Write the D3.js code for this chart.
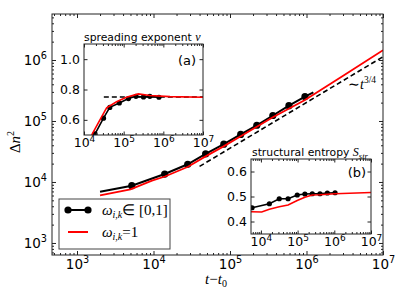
<!DOCTYPE html>
<html lang="en">
<head>
<meta charset="UTF-8">
<title>Spreading</title>
<script src="https://d3js.org/d3.v7.min.js"></script>
<style>body{margin:0;background:#fff}</style>
</head>
<body>
<script>
// main panel: black = omega in [0,1] (with markers), red = omega = 1
const blackT = [2000, 5200, 14000, 28000, 48000, 83000, 138000, 224000, 363000, 589000, 955000, 1230000];
const blackN = [6900, 8700, 13500, 19500, 28800, 41700, 60300, 85100, 123000, 178000, 251000, 295000];
const redT = [2000, 5000, 9550, 14100, 28200, 47900, 81300, 138000, 363000, 955000, 3160000, 1e7];
const redN = [6030, 7590, 10500, 12300, 17800, 26300, 38000, 56200, 115000, 221000, 575000, 1445000];
const powT = [40000, 1e7];
const powN = [18000, 1130000];

// inset (a): spreading exponent nu
const nuBlackT = [19000, 31000, 44700, 77600, 132000, 204000, 316000, 457000, 776000];
const nuBlack = [0.507, 0.611, 0.682, 0.711, 0.74, 0.755, 0.751, 0.755, 0.749];
const nuRedT = [14100, 16200, 28200, 37200, 66100, 117000, 234000, 457000, 1480000, 1e7];
const nuRed = [0.46, 0.507, 0.623, 0.679, 0.719, 0.749, 0.771, 0.76, 0.753, 0.749];
const nuRefT = [31600, 1e7];
const nuRef = [0.75, 0.75];

// inset (b): structural entropy
const sBlackT = [5750, 17000, 31600, 55000, 97700, 158000, 251000, 407000, 646000, 1050000];
const sBlack = [0.455, 0.471, 0.491, 0.491, 0.506, 0.510, 0.511, 0.511, 0.514, 0.515];
const sRedT = [5370, 10500, 17000, 31600, 55000, 97700, 158000, 251000, 407000, 1050000, 1e7];
const sRed = [0.439, 0.438, 0.449, 0.459, 0.466, 0.484, 0.497, 0.506, 0.507, 0.511, 0.516];

const SANS = "DejaVu Sans", SERIF = "Liberation Serif";

const svg = d3.select("body").append("svg").attr("width", 399).attr("height", 301);
svg.append("rect").attr("width", 399).attr("height", 301).attr("fill", "white");

function logTicks(lo, hi) {
  const major = [], minor = [];
  for (let e = Math.floor(Math.log10(lo)); e <= Math.ceil(Math.log10(hi)); e++) {
    for (let k = 1; k < 10; k++) {
      const v = k * Math.pow(10, e);
      if (v < lo * 0.999 || v > hi * 1.001) continue;
      (k === 1 ? major : minor).push(v);
    }
  }
  return {major, minor};
}

function powLabels(g, fs) {
  g.selectAll(".tick text").each(function(d) {
    const t = d3.select(this).text(null);
    t.append("tspan").text("10");
    t.append("tspan").attr("dy", "-0.55em").attr("font-size", fs * 0.72)
      .text(Math.round(Math.log10(d)));
  });
}

// panel with ticks inside on all four sides
function panel(x, y, o) {
  const [x0, x1] = x.range(), [yb, yt] = y.range();
  const g = svg.append("g");
  const id = "clip" + Math.round(x0) + "_" + Math.round(yt);
  g.append("clipPath").attr("id", id).append("rect")
    .attr("x", x0).attr("y", yt).attr("width", x1 - x0).attr("height", yb - yt);
  g.append("rect").attr("x", x0).attr("y", yt).attr("width", x1 - x0).attr("height", yb - yt)
    .attr("fill", "white");
  const plot = g.append("g").attr("clip-path", `url(#${id})`);
  const axes = g.append("g");

  const xt = logTicks(...x.domain());
  const style = a => {
    a.select(".domain").remove();
    a.selectAll("line").attr("stroke", "#222");
    a.attr("font-family", SANS).attr("font-size", o.fs).selectAll("text").attr("fill", "#000");
  };
  const bx = axes.append("g").attr("transform", `translate(0,${yb})`)
    .call(d3.axisBottom(x).tickValues(xt.major).tickSize(-o.maj).tickPadding(o.xpad).tickFormat(d => d));
  style(bx); powLabels(bx, o.fs);
  style(axes.append("g").attr("transform", `translate(0,${yb})`)
    .call(d3.axisBottom(x).tickValues(xt.minor).tickSize(-o.min).tickFormat("")));
  style(axes.append("g").attr("transform", `translate(0,${yt})`)
    .call(d3.axisTop(x).tickValues(xt.major).tickSize(-o.maj).tickFormat("")));
  style(axes.append("g").attr("transform", `translate(0,${yt})`)
    .call(d3.axisTop(x).tickValues(xt.minor).tickSize(-o.min).tickFormat("")));

  let ymaj, ymin = [], yfmt;
  if (o.ylog) { const yt2 = logTicks(...y.domain()); ymaj = yt2.major; ymin = yt2.minor; yfmt = d => d; }
  else { ymaj = o.yticks; yfmt = d3.format(".1f"); }
  const ly = axes.append("g").attr("transform", `translate(${x0},0)`)
    .call(d3.axisLeft(y).tickValues(ymaj).tickSize(-o.maj).tickPadding(o.ypad).tickFormat(yfmt));
  style(ly); if (o.ylog) powLabels(ly, o.fs);
  style(axes.append("g").attr("transform", `translate(${x1},0)`)
    .call(d3.axisRight(y).tickValues(ymaj).tickSize(-o.maj).tickFormat("")));
  if (ymin.length) {
    style(axes.append("g").attr("transform", `translate(${x0},0)`)
      .call(d3.axisLeft(y).tickValues(ymin).tickSize(-o.min).tickFormat("")));
    style(axes.append("g").attr("transform", `translate(${x1},0)`)
      .call(d3.axisRight(y).tickValues(ymin).tickSize(-o.min).tickFormat("")));
  }
  g.append("rect").attr("x", x0).attr("y", yt).attr("width", x1 - x0).attr("height", yb - yt)
    .attr("fill", "none").attr("stroke", "#222").attr("stroke-width", 1);
  return plot;
}

function curve(plot, x, y, xs, ys, color, w, dash) {
  const line = d3.line().x(d => x(d[0])).y(d => y(d[1]));
  plot.append("path").datum(xs.map((v, i) => [v, ys[i]]))
    .attr("d", line).attr("fill", "none").attr("stroke", color)
    .attr("stroke-width", w).attr("stroke-dasharray", dash || null);
}
function dots(plot, x, y, xs, ys, r) {
  plot.selectAll(null).data(xs.map((v, i) => [v, ys[i]])).join("circle")
    .attr("cx", d => x(d[0])).attr("cy", d => y(d[1])).attr("r", r).attr("fill", "black");
}

// ---- main panel
const x = d3.scaleLog().domain([471, 1e7]).range([52, 383]);
const y = d3.scaleLog().domain([635, 5.68e6]).range([255, 14]);
const mp = panel(x, y, {fs: 13.5, maj: 4, min: 2, xpad: 4, ypad: 5, ylog: true});
curve(mp, x, y, powT, powN, "black", 1.6, "5,3");
curve(mp, x, y, blackT, blackN, "black", 2);
dots(mp, x, y, blackT.slice(1, -1), blackN.slice(1, -1), 3.6);
curve(mp, x, y, redT, redN, "red", 1.8);

svg.append("text").attr("x", 348).attr("y", 89).attr("font-family", SERIF).attr("font-size", 14)
  .call(t => {
    t.append("tspan").text("∼");
    t.append("tspan").attr("font-style", "italic").text("t");
    t.append("tspan").attr("dy", -6).attr("font-size", 9.5).text("3/4");
  });

// axis labels
svg.append("text").attr("x", 216).attr("y", 284).attr("text-anchor", "middle")
  .attr("font-family", SERIF).attr("font-size", 15)
  .call(t => {
    t.append("tspan").attr("font-style", "italic").text("t");
    t.append("tspan").text("−");
    t.append("tspan").attr("font-style", "italic").text("t");
    t.append("tspan").attr("dy", 3).attr("font-size", 10).text("0");
  });
svg.append("text").attr("transform", "translate(20,142) rotate(-90)").attr("text-anchor", "middle")
  .attr("font-family", SERIF).attr("font-size", 15)
  .call(t => {
    t.append("tspan").text("Δ");
    t.append("tspan").attr("font-style", "italic").text("n");
    t.append("tspan").attr("dy", -6).attr("font-size", 10).text("2");
  });

// legend
const lg = svg.append("g");
lg.append("rect").attr("x", 59).attr("y", 199).attr("width", 111).attr("height", 50)
  .attr("fill", "white").attr("stroke", "#444").attr("stroke-width", 1);
lg.append("line").attr("x1", 68).attr("x2", 88).attr("y1", 210).attr("y2", 210)
  .attr("stroke", "black").attr("stroke-width", 2);
lg.selectAll(null).data([68, 88]).join("circle").attr("cx", d => d).attr("cy", 210).attr("r", 3.6);
lg.append("line").attr("x1", 68).attr("x2", 88).attr("y1", 232).attr("y2", 232)
  .attr("stroke", "red").attr("stroke-width", 2);
[["∈ [0,1]", 215], ["=1", 237]].forEach(([rest, by]) => {
  lg.append("text").attr("x", 102).attr("y", by).attr("font-family", SERIF).attr("font-size", 15)
    .call(t => {
      t.append("tspan").attr("font-style", "italic").text("ω");
      t.append("tspan").attr("font-style", "italic").attr("font-size", 10).attr("dy", 3).text("i,k");
      t.append("tspan").attr("dy", -3).text(rest);
    });
});

// ---- inset (a)
const xa = d3.scaleLog().domain([1e4, 1e7]).range([84, 203]);
const ya = d3.scaleLinear().domain([0.5, 1.1]).range([135, 44]);
const pa = panel(xa, ya, {fs: 12.5, maj: 3.5, min: 2, xpad: 3, ypad: 4, ylog: false, yticks: [0.6, 0.8, 1.0]});
curve(pa, xa, ya, nuRefT, nuRef, "black", 1.5, "5,3");
curve(pa, xa, ya, nuBlackT, nuBlack, "black", 1.6);
dots(pa, xa, ya, nuBlackT, nuBlack, 2.6);
curve(pa, xa, ya, nuRedT, nuRed, "red", 1.6);
svg.append("text").attr("x", 84).attr("y", 41).attr("font-family", SANS).attr("font-size", 10.8)
  .call(t => {
    t.append("tspan").text("spreading exponent ");
    t.append("tspan").attr("font-family", SERIF).attr("font-style", "italic").attr("font-size", 12).text("ν");
  });
svg.append("text").attr("x", 187).attr("y", 65).attr("text-anchor", "middle")
  .attr("font-family", SANS).attr("font-size", 13).text("(a)");

// ---- inset (b)
const xb = d3.scaleLog().domain([5370, 1e7]).range([251, 371]);
const yb = d3.scaleLinear().domain([0.35, 0.65]).range([234, 159]);
const pb = panel(xb, yb, {fs: 12.5, maj: 3.5, min: 2, xpad: 3, ypad: 4, ylog: false, yticks: [0.4, 0.5, 0.6]});
curve(pb, xb, yb, sBlackT, sBlack, "black", 1.6);
dots(pb, xb, yb, sBlackT, sBlack, 2.6);
curve(pb, xb, yb, sRedT, sRed, "red", 1.6);
svg.append("text").attr("x", 252).attr("y", 156).attr("font-family", SANS).attr("font-size", 10.8)
  .call(t => {
    t.append("tspan").text("structural entropy ");
    t.append("tspan").attr("font-family", SERIF).attr("font-style", "italic").attr("font-size", 12).text("S");
    t.append("tspan").attr("font-family", SERIF).attr("font-style", "italic").attr("font-size", 8.5)
      .attr("dy", 2.5).text("str");
  });
svg.append("text").attr("x", 357).attr("y", 177).attr("text-anchor", "middle")
  .attr("font-family", SANS).attr("font-size", 13).text("(b)");
</script>
</body>
</html>
